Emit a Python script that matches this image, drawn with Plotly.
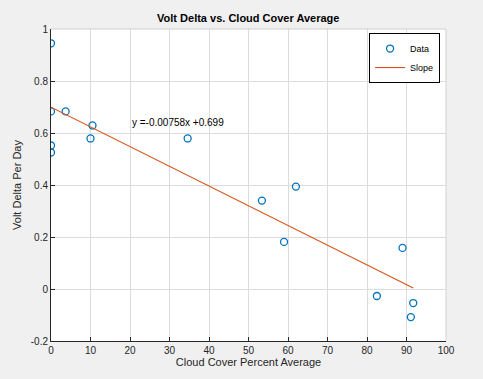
import plotly.graph_objects as go

cloud_cover = [0, 0, 3.7, 0, 0, 10.0, 10.5, 34.6, 53.4, 62.0, 59.0, 89.0, 82.5, 91.7, 91.1]
volt_delta = [0.945, 0.683, 0.683, 0.552, 0.525, 0.579, 0.629, 0.579, 0.340, 0.394, 0.181, 0.158, -0.027, -0.054, -0.108]
slope = -0.00758
intercept = 0.699
x_ticks = [0, 10, 20, 30, 40, 50, 60, 70, 80, 90, 100]
y_ticks = [-0.2, 0, 0.2, 0.4, 0.6, 0.8, 1]
y_tick_labels = ["-0.2", "0", "0.2", "0.4", "0.6", "0.8", "1"]

fit_x = [min(cloud_cover), max(cloud_cover)]
fit_y = [slope * v + intercept for v in fit_x]

font = "Liberation Sans, Arial, sans-serif"
fig = go.Figure()
fig.add_trace(go.Scatter(
    x=cloud_cover, y=volt_delta, mode="markers", name="Data",
    marker=dict(symbol="circle-open", size=7, color="#0072BD", line=dict(width=1.3, color="#0072BD")),
))
fig.add_trace(go.Scatter(
    x=fit_x, y=fit_y, mode="lines", name="Slope",
    line=dict(color="#D95319", width=1.1),
))
fig.add_annotation(x=20, y=0.64, xref="x", yref="y", text="y =-0.00758x +0.699",
                   showarrow=False, xanchor="left", yanchor="middle",
                   font=dict(family=font, size=10, color="#000000"))

axis_common = dict(showgrid=True, gridcolor="#dcdcdc", gridwidth=1, zeroline=False,
                   showline=True, linecolor="#262626", linewidth=1,
                   ticks="inside", ticklen=4, tickcolor="#262626",
                   tickfont=dict(family=font, size=10, color="#262626"))

fig.update_layout(
    width=483, height=379,
    paper_bgcolor="#f0f0f0", plot_bgcolor="#ffffff",
    margin=dict(l=51, r=37, t=29, b=38),
    title=dict(text="<b>Volt Delta vs. Cloud Cover Average</b>", x=0.514, xanchor="center",
               y=0.952, yanchor="middle", font=dict(family=font, size=11, color="#000000")),
    xaxis=dict(range=[0, 100], tickvals=x_ticks,
               title=dict(text="Cloud Cover Percent Average", standoff=3,
                          font=dict(family=font, size=11, color="#262626")),
               **axis_common),
    yaxis=dict(range=[-0.2, 1], tickvals=y_ticks, ticktext=y_tick_labels,
               title=dict(text="Volt Delta Per Day", standoff=6,
                          font=dict(family=font, size=11, color="#262626")),
               **axis_common),
    legend=dict(x=0.985, y=0.987, xanchor="right", yanchor="top",
                bgcolor="#ffffff", bordercolor="#000000", borderwidth=1,
                font=dict(family=font, size=9, color="#000000"),
                tracegroupgap=0, itemwidth=30),
    showlegend=True,
)
fig.add_shape(type="line", xref="paper", yref="paper", x0=0, x1=1, y0=1, y1=1,
              line=dict(color="#d0d0d0", width=1))
fig.add_shape(type="line", xref="paper", yref="paper", x0=1, x1=1, y0=0, y1=1,
              line=dict(color="#d0d0d0", width=1))
fig.write_html("out.html", config={"displayModeBar": False},
               post_script="document.body.style.margin='0';document.body.style.background='#f0f0f0';")
